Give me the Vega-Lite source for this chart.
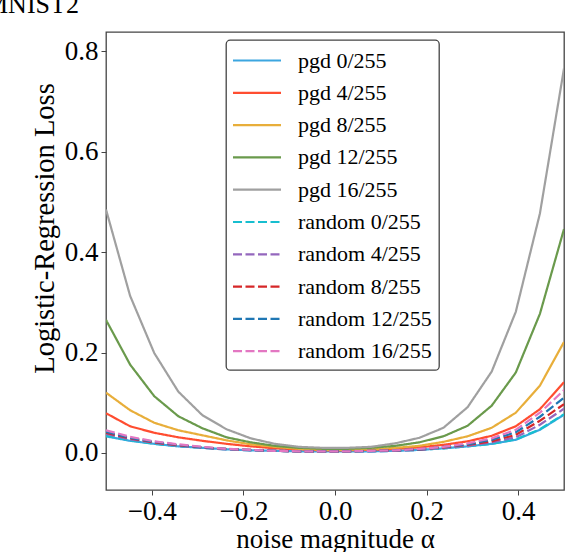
{
  "$schema": "https://vega.github.io/schema/vega-lite/v6.json",
  "autosize": {"type": "none"},
  "padding": {"left": 106, "top": 32, "right": 2, "bottom": 62},
  "width": 458,
  "height": 458,
  "title": {
    "text": "MNIST2",
    "orient": "none",
    "anchor": "start",
    "frame": "group",
    "font": "Liberation Serif",
    "fontSize": 26,
    "fontWeight": "normal",
    "color": "black",
    "baseline": "alphabetic",
    "offset": 0,
    "dx": -121,
    "dy": -19
  },
  "data": {
    "values": [
      {"s": "pgd 0/255", "x": -0.5, "y": 0.033}, {"s": "pgd 0/255", "x": -0.4474, "y": 0.024}, {"s": "pgd 0/255", "x": -0.3947, "y": 0.018}, {"s": "pgd 0/255", "x": -0.3421, "y": 0.013}, {"s": "pgd 0/255", "x": -0.2895, "y": 0.010}, {"s": "pgd 0/255", "x": -0.2368, "y": 0.007}, {"s": "pgd 0/255", "x": -0.1842, "y": 0.005}, {"s": "pgd 0/255", "x": -0.1316, "y": 0.004}, {"s": "pgd 0/255", "x": -0.0789, "y": 0.003}, {"s": "pgd 0/255", "x": -0.0263, "y": 0.003},
      {"s": "pgd 0/255", "x": 0.0263, "y": 0.003}, {"s": "pgd 0/255", "x": 0.0789, "y": 0.003}, {"s": "pgd 0/255", "x": 0.1316, "y": 0.004}, {"s": "pgd 0/255", "x": 0.1842, "y": 0.006}, {"s": "pgd 0/255", "x": 0.2368, "y": 0.009}, {"s": "pgd 0/255", "x": 0.2895, "y": 0.013}, {"s": "pgd 0/255", "x": 0.3421, "y": 0.018}, {"s": "pgd 0/255", "x": 0.3947, "y": 0.026}, {"s": "pgd 0/255", "x": 0.4474, "y": 0.046}, {"s": "pgd 0/255", "x": 0.5, "y": 0.076},
      {"s": "pgd 4/255", "x": -0.5, "y": 0.079}, {"s": "pgd 4/255", "x": -0.4474, "y": 0.053}, {"s": "pgd 4/255", "x": -0.3947, "y": 0.040}, {"s": "pgd 4/255", "x": -0.3421, "y": 0.031}, {"s": "pgd 4/255", "x": -0.2895, "y": 0.024}, {"s": "pgd 4/255", "x": -0.2368, "y": 0.018}, {"s": "pgd 4/255", "x": -0.1842, "y": 0.013}, {"s": "pgd 4/255", "x": -0.1316, "y": 0.009}, {"s": "pgd 4/255", "x": -0.0789, "y": 0.007}, {"s": "pgd 4/255", "x": -0.0263, "y": 0.005},
      {"s": "pgd 4/255", "x": 0.0263, "y": 0.005}, {"s": "pgd 4/255", "x": 0.0789, "y": 0.006}, {"s": "pgd 4/255", "x": 0.1316, "y": 0.008}, {"s": "pgd 4/255", "x": 0.1842, "y": 0.011}, {"s": "pgd 4/255", "x": 0.2368, "y": 0.016}, {"s": "pgd 4/255", "x": 0.2895, "y": 0.023}, {"s": "pgd 4/255", "x": 0.3421, "y": 0.034}, {"s": "pgd 4/255", "x": 0.3947, "y": 0.053}, {"s": "pgd 4/255", "x": 0.4474, "y": 0.087}, {"s": "pgd 4/255", "x": 0.5, "y": 0.141},
      {"s": "pgd 8/255", "x": -0.5, "y": 0.120}, {"s": "pgd 8/255", "x": -0.4474, "y": 0.085}, {"s": "pgd 8/255", "x": -0.3947, "y": 0.060}, {"s": "pgd 8/255", "x": -0.3421, "y": 0.045}, {"s": "pgd 8/255", "x": -0.2895, "y": 0.035}, {"s": "pgd 8/255", "x": -0.2368, "y": 0.025}, {"s": "pgd 8/255", "x": -0.1842, "y": 0.017}, {"s": "pgd 8/255", "x": -0.1316, "y": 0.012}, {"s": "pgd 8/255", "x": -0.0789, "y": 0.008}, {"s": "pgd 8/255", "x": -0.0263, "y": 0.006},
      {"s": "pgd 8/255", "x": 0.0263, "y": 0.006}, {"s": "pgd 8/255", "x": 0.0789, "y": 0.007}, {"s": "pgd 8/255", "x": 0.1316, "y": 0.010}, {"s": "pgd 8/255", "x": 0.1842, "y": 0.014}, {"s": "pgd 8/255", "x": 0.2368, "y": 0.022}, {"s": "pgd 8/255", "x": 0.2895, "y": 0.033}, {"s": "pgd 8/255", "x": 0.3421, "y": 0.050}, {"s": "pgd 8/255", "x": 0.3947, "y": 0.080}, {"s": "pgd 8/255", "x": 0.4474, "y": 0.134}, {"s": "pgd 8/255", "x": 0.5, "y": 0.221},
      {"s": "pgd 12/255", "x": -0.5, "y": 0.265}, {"s": "pgd 12/255", "x": -0.4474, "y": 0.176}, {"s": "pgd 12/255", "x": -0.3947, "y": 0.113}, {"s": "pgd 12/255", "x": -0.3421, "y": 0.073}, {"s": "pgd 12/255", "x": -0.2895, "y": 0.049}, {"s": "pgd 12/255", "x": -0.2368, "y": 0.031}, {"s": "pgd 12/255", "x": -0.1842, "y": 0.021}, {"s": "pgd 12/255", "x": -0.1316, "y": 0.014}, {"s": "pgd 12/255", "x": -0.0789, "y": 0.010}, {"s": "pgd 12/255", "x": -0.0263, "y": 0.008},
      {"s": "pgd 12/255", "x": 0.0263, "y": 0.008}, {"s": "pgd 12/255", "x": 0.0789, "y": 0.010}, {"s": "pgd 12/255", "x": 0.1316, "y": 0.014}, {"s": "pgd 12/255", "x": 0.1842, "y": 0.021}, {"s": "pgd 12/255", "x": 0.2368, "y": 0.033}, {"s": "pgd 12/255", "x": 0.2895, "y": 0.054}, {"s": "pgd 12/255", "x": 0.3421, "y": 0.094}, {"s": "pgd 12/255", "x": 0.3947, "y": 0.160}, {"s": "pgd 12/255", "x": 0.4474, "y": 0.277}, {"s": "pgd 12/255", "x": 0.5, "y": 0.446},
      {"s": "pgd 16/255", "x": -0.5, "y": 0.485}, {"s": "pgd 16/255", "x": -0.4474, "y": 0.313}, {"s": "pgd 16/255", "x": -0.3947, "y": 0.199}, {"s": "pgd 16/255", "x": -0.3421, "y": 0.122}, {"s": "pgd 16/255", "x": -0.2895, "y": 0.075}, {"s": "pgd 16/255", "x": -0.2368, "y": 0.047}, {"s": "pgd 16/255", "x": -0.1842, "y": 0.029}, {"s": "pgd 16/255", "x": -0.1316, "y": 0.018}, {"s": "pgd 16/255", "x": -0.0789, "y": 0.012}, {"s": "pgd 16/255", "x": -0.0263, "y": 0.010},
      {"s": "pgd 16/255", "x": 0.0263, "y": 0.010}, {"s": "pgd 16/255", "x": 0.0789, "y": 0.012}, {"s": "pgd 16/255", "x": 0.1316, "y": 0.019}, {"s": "pgd 16/255", "x": 0.1842, "y": 0.030}, {"s": "pgd 16/255", "x": 0.2368, "y": 0.050}, {"s": "pgd 16/255", "x": 0.2895, "y": 0.091}, {"s": "pgd 16/255", "x": 0.3421, "y": 0.162}, {"s": "pgd 16/255", "x": 0.3947, "y": 0.281}, {"s": "pgd 16/255", "x": 0.4474, "y": 0.477}, {"s": "pgd 16/255", "x": 0.5, "y": 0.766},
      {"s": "random 0/255", "x": -0.5, "y": 0.034}, {"s": "random 0/255", "x": -0.4474, "y": 0.025}, {"s": "random 0/255", "x": -0.3947, "y": 0.018}, {"s": "random 0/255", "x": -0.3421, "y": 0.013}, {"s": "random 0/255", "x": -0.2895, "y": 0.010}, {"s": "random 0/255", "x": -0.2368, "y": 0.007}, {"s": "random 0/255", "x": -0.1842, "y": 0.005}, {"s": "random 0/255", "x": -0.1316, "y": 0.004}, {"s": "random 0/255", "x": -0.0789, "y": 0.003}, {"s": "random 0/255", "x": -0.0263, "y": 0.003},
      {"s": "random 0/255", "x": 0.0263, "y": 0.003}, {"s": "random 0/255", "x": 0.0789, "y": 0.003}, {"s": "random 0/255", "x": 0.1316, "y": 0.004}, {"s": "random 0/255", "x": 0.1842, "y": 0.006}, {"s": "random 0/255", "x": 0.2368, "y": 0.009}, {"s": "random 0/255", "x": 0.2895, "y": 0.013}, {"s": "random 0/255", "x": 0.3421, "y": 0.018}, {"s": "random 0/255", "x": 0.3947, "y": 0.027}, {"s": "random 0/255", "x": 0.4474, "y": 0.047}, {"s": "random 0/255", "x": 0.5, "y": 0.077},
      {"s": "random 4/255", "x": -0.5, "y": 0.038}, {"s": "random 4/255", "x": -0.4474, "y": 0.027}, {"s": "random 4/255", "x": -0.3947, "y": 0.020}, {"s": "random 4/255", "x": -0.3421, "y": 0.014}, {"s": "random 4/255", "x": -0.2895, "y": 0.010}, {"s": "random 4/255", "x": -0.2368, "y": 0.007}, {"s": "random 4/255", "x": -0.1842, "y": 0.005}, {"s": "random 4/255", "x": -0.1316, "y": 0.004}, {"s": "random 4/255", "x": -0.0789, "y": 0.003}, {"s": "random 4/255", "x": -0.0263, "y": 0.003},
      {"s": "random 4/255", "x": 0.0263, "y": 0.003}, {"s": "random 4/255", "x": 0.0789, "y": 0.003}, {"s": "random 4/255", "x": 0.1316, "y": 0.004}, {"s": "random 4/255", "x": 0.1842, "y": 0.006}, {"s": "random 4/255", "x": 0.2368, "y": 0.010}, {"s": "random 4/255", "x": 0.2895, "y": 0.014}, {"s": "random 4/255", "x": 0.3421, "y": 0.021}, {"s": "random 4/255", "x": 0.3947, "y": 0.031}, {"s": "random 4/255", "x": 0.4474, "y": 0.056}, {"s": "random 4/255", "x": 0.5, "y": 0.088},
      {"s": "random 8/255", "x": -0.5, "y": 0.040}, {"s": "random 8/255", "x": -0.4474, "y": 0.029}, {"s": "random 8/255", "x": -0.3947, "y": 0.021}, {"s": "random 8/255", "x": -0.3421, "y": 0.015}, {"s": "random 8/255", "x": -0.2895, "y": 0.011}, {"s": "random 8/255", "x": -0.2368, "y": 0.008}, {"s": "random 8/255", "x": -0.1842, "y": 0.006}, {"s": "random 8/255", "x": -0.1316, "y": 0.004}, {"s": "random 8/255", "x": -0.0789, "y": 0.003}, {"s": "random 8/255", "x": -0.0263, "y": 0.003},
      {"s": "random 8/255", "x": 0.0263, "y": 0.003}, {"s": "random 8/255", "x": 0.0789, "y": 0.004}, {"s": "random 8/255", "x": 0.1316, "y": 0.005}, {"s": "random 8/255", "x": 0.1842, "y": 0.007}, {"s": "random 8/255", "x": 0.2368, "y": 0.011}, {"s": "random 8/255", "x": 0.2895, "y": 0.016}, {"s": "random 8/255", "x": 0.3421, "y": 0.023}, {"s": "random 8/255", "x": 0.3947, "y": 0.036}, {"s": "random 8/255", "x": 0.4474, "y": 0.064}, {"s": "random 8/255", "x": 0.5, "y": 0.097},
      {"s": "random 12/255", "x": -0.5, "y": 0.042}, {"s": "random 12/255", "x": -0.4474, "y": 0.030}, {"s": "random 12/255", "x": -0.3947, "y": 0.022}, {"s": "random 12/255", "x": -0.3421, "y": 0.016}, {"s": "random 12/255", "x": -0.2895, "y": 0.011}, {"s": "random 12/255", "x": -0.2368, "y": 0.008}, {"s": "random 12/255", "x": -0.1842, "y": 0.006}, {"s": "random 12/255", "x": -0.1316, "y": 0.004}, {"s": "random 12/255", "x": -0.0789, "y": 0.003}, {"s": "random 12/255", "x": -0.0263, "y": 0.003},
      {"s": "random 12/255", "x": 0.0263, "y": 0.003}, {"s": "random 12/255", "x": 0.0789, "y": 0.004}, {"s": "random 12/255", "x": 0.1316, "y": 0.005}, {"s": "random 12/255", "x": 0.1842, "y": 0.007}, {"s": "random 12/255", "x": 0.2368, "y": 0.012}, {"s": "random 12/255", "x": 0.2895, "y": 0.017}, {"s": "random 12/255", "x": 0.3421, "y": 0.026}, {"s": "random 12/255", "x": 0.3947, "y": 0.041}, {"s": "random 12/255", "x": 0.4474, "y": 0.072}, {"s": "random 12/255", "x": 0.5, "y": 0.110},
      {"s": "random 16/255", "x": -0.5, "y": 0.045}, {"s": "random 16/255", "x": -0.4474, "y": 0.032}, {"s": "random 16/255", "x": -0.3947, "y": 0.023}, {"s": "random 16/255", "x": -0.3421, "y": 0.017}, {"s": "random 16/255", "x": -0.2895, "y": 0.012}, {"s": "random 16/255", "x": -0.2368, "y": 0.008}, {"s": "random 16/255", "x": -0.1842, "y": 0.006}, {"s": "random 16/255", "x": -0.1316, "y": 0.004}, {"s": "random 16/255", "x": -0.0789, "y": 0.003}, {"s": "random 16/255", "x": -0.0263, "y": 0.003},
      {"s": "random 16/255", "x": 0.0263, "y": 0.003}, {"s": "random 16/255", "x": 0.0789, "y": 0.004}, {"s": "random 16/255", "x": 0.1316, "y": 0.005}, {"s": "random 16/255", "x": 0.1842, "y": 0.008}, {"s": "random 16/255", "x": 0.2368, "y": 0.012}, {"s": "random 16/255", "x": 0.2895, "y": 0.019}, {"s": "random 16/255", "x": 0.3421, "y": 0.029}, {"s": "random 16/255", "x": 0.3947, "y": 0.046}, {"s": "random 16/255", "x": 0.4474, "y": 0.080}, {"s": "random 16/255", "x": 0.5, "y": 0.125}
    ]
  },
  "mark": {"type": "line", "strokeWidth": 2.2, "clip": true},
  "encoding": {
    "x": {
      "field": "x",
      "type": "quantitative",
      "title": "noise magnitude α",
      "scale": {"domain": [-0.5, 0.5], "nice": false, "zero": false},
      "axis": {"values": [-0.4, -0.2, 0, 0.2, 0.4], "format": ".1f", "titleX": 229, "titleY": 57, "titleBaseline": "alphabetic"}
    },
    "y": {
      "field": "y",
      "type": "quantitative",
      "title": "Logistic-Regression Loss",
      "scale": {"domain": [-0.074, 0.8387], "nice": false, "zero": false},
      "axis": {"values": [0, 0.2, 0.4, 0.6, 0.8], "format": ".1f", "titleX": -53, "titleY": 196, "titleBaseline": "alphabetic", "titleAngle": 270, "titleAlign": "center", "titleFontSize": 28.5}
    },
    "color": {
      "field": "s",
      "type": "nominal",
      "title": null,
      "scale": {
        "domain": ["pgd 0/255", "pgd 4/255", "pgd 8/255", "pgd 12/255", "pgd 16/255", "random 0/255", "random 4/255", "random 8/255", "random 12/255", "random 16/255"],
        "range": ["#3ca6e0", "#ff4d30", "#e8ae3a", "#6a9a4c", "#a0a0a0", "#17becf", "#9467bd", "#d62728", "#1f77b4", "#e377c2"]
      }
    },
    "strokeDash": {
      "field": "s",
      "type": "nominal",
      "title": null,
      "scale": {
        "domain": ["pgd 0/255", "pgd 4/255", "pgd 8/255", "pgd 12/255", "pgd 16/255", "random 0/255", "random 4/255", "random 8/255", "random 12/255", "random 16/255"],
        "range": [[1, 0], [1, 0], [1, 0], [1, 0], [1, 0], [9, 3.5], [9, 3.5], [9, 3.5], [9, 3.5], [9, 3.5]]
      }
    }
  },
  "config": {
    "font": "Liberation Serif",
    "view": {"stroke": "#444", "strokeWidth": 1.3},
    "axis": {
      "grid": false,
      "domain": false,
      "tickColor": "#444",
      "tickSize": 5,
      "tickWidth": 1,
      "labelFont": "Liberation Serif",
      "labelFontSize": 27,
      "labelColor": "black",
      "labelPadding": 3,
      "titleFont": "Liberation Serif",
      "titleFontSize": 27,
      "titleFontWeight": "normal",
      "titleColor": "black"
    },
    "legend": {
      "orient": "none",
      "legendX": 120,
      "legendY": 8,
      "symbolType": "M-2,0H2",
      "symbolSize": 576,
      "symbolOffset": 10.5,
      "symbolStrokeWidth": 2.2,
      "labelFont": "Liberation Serif",
      "labelFontSize": 22,
      "labelColor": "black",
      "labelOffset": 27.5,
      "rowPadding": 7.3,
      "padding": 7,
      "strokeColor": "#444",
      "strokeWidth": 1.3,
      "cornerRadius": 4,
      "fillColor": "white"
    }
  }
}
